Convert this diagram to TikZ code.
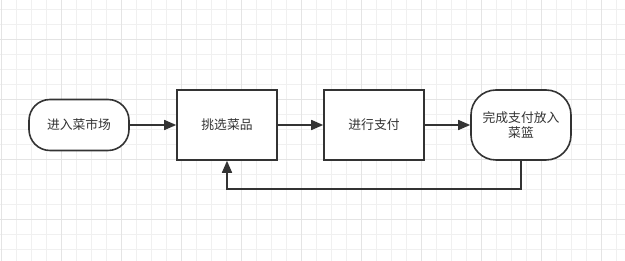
\documentclass[tikz,border=0pt]{standalone}
\usepackage{fontspec}
\setmainfont{Noto Sans CJK SC}
\usetikzlibrary{arrows.meta}
\definecolor{ink}{HTML}{333333}
\definecolor{gridminor}{HTML}{F0F0F0}
\definecolor{gridmajor}{HTML}{E4E4E4}
\tikzset{
  box/.style={draw=ink, line width=1.6pt, fill=white, minimum width=100pt, minimum height=70pt, inner sep=0pt, text=ink, font=\fontsize{12.8pt}{15.5pt}\selectfont, align=center},
  flow/.style={draw=ink, line width=1.6pt, -{Triangle[length=12pt,width=10pt]}}
}
\begin{document}
\begin{tikzpicture}[x=1pt,y=-1pt]
\useasboundingbox (0,0) rectangle (625,261);
\fill[white] (0,0) rectangle (625,261);
\foreach \i in {0,...,41} {\draw[gridminor, line width=0.8pt] ({1.7+15*\i},0) -- ({1.7+15*\i},261);}
\foreach \j in {0,...,17} {\draw[gridminor, line width=0.8pt] (0,{9.3+15*\j}) -- (625,{9.3+15*\j});}
\foreach \i in {0,...,10} {\draw[gridmajor, line width=0.8pt] ({1.7+60*\i},0) -- ({1.7+60*\i},261);}
\foreach \j in {0,...,3} {\draw[gridmajor, line width=0.8pt] (0,{39.3+60*\j}) -- (625,{39.3+60*\j});}
\node[box, minimum height=51pt, rounded corners=21pt] (start) at (79,125) {进入菜市场};
\node[box] (pick) at (227,125) {挑选菜品};
\node[box] (pay) at (374,125) {进行支付};
\node[box, rounded corners=25pt] (done) at (521,125) {完成支付放入\\菜篮};
\coordinate (c1) at (521,189);
\coordinate (c2) at (227,189);
\draw[flow] (start) -- (pick);
\draw[flow] (pick) -- (pay);
\draw[flow] (pay) -- (done);
\draw[flow] (done.south) -- (c1) -- (c2) -- (pick.south);
\end{tikzpicture}
\end{document}
